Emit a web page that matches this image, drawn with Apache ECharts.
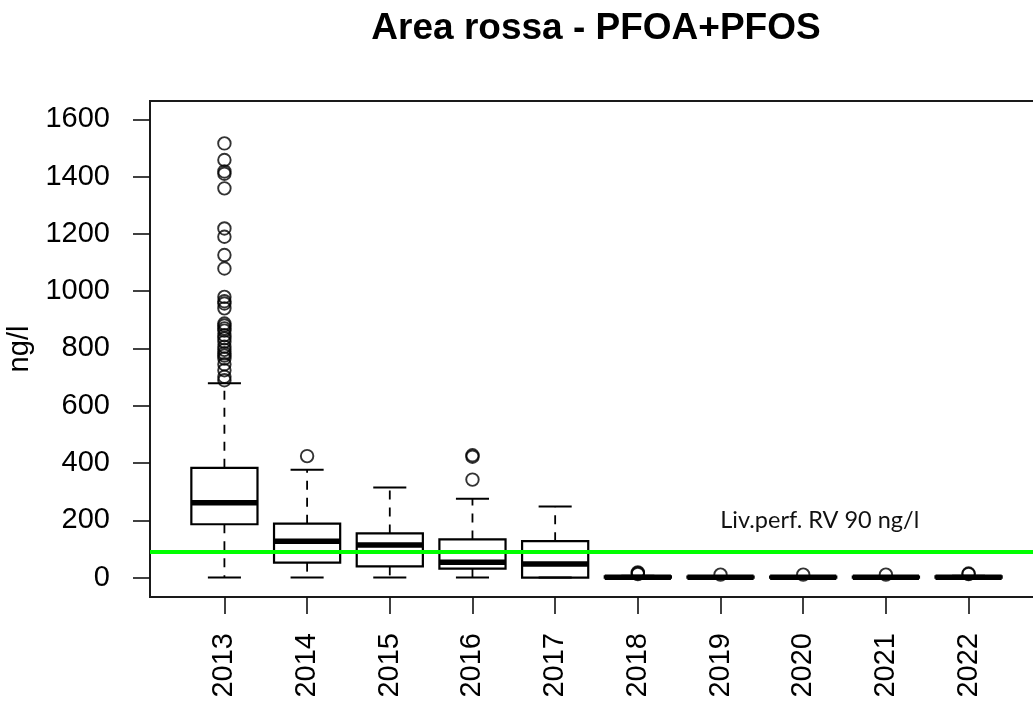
<!DOCTYPE html>
<html>
<head>
<meta charset="utf-8">
<script src="https://cdn.jsdelivr.net/npm/echarts@6/dist/echarts.min.js"></script>
<style>
html,body{margin:0;padding:0;background:#fff;}
#chart{width:1033px;height:702px;}
</style>
</head>
<body>
<div id="chart"></div>
<script>
// ---- data ----
var years = ['2013','2014','2015','2016','2017','2018','2019','2020','2021','2022'];
var lowerWhisker = [0, 0, 0, 0, 0, 0, 0, 0, 0, 0];
var q1 =          [186, 52, 39, 31, 0, 0, 0, 0, 0, 0];
var median =      [261, 127, 114, 53, 47, 1, 1, 1, 1, 1];
var q3 =          [383, 188, 154, 133, 127, 4, 3, 3, 3, 4];
var upperWhisker = [678, 376, 314, 275, 248, 6, 5, 5, 5, 6];
var outliers = [
  [1516, 1458, 1418, 1410, 1359, 1219, 1190, 1126, 1079, 980, 965, 957, 940, 887, 880, 870, 862, 846, 835, 823, 806, 795, 783, 775, 765, 745, 724, 701, 689],
  [424],
  [],
  [427, 422, 342],
  [],
  [18, 15, 12],
  [10],
  [10],
  [10],
  [14, 12]
];
var yTicks = [0, 200, 400, 600, 800, 1000, 1200, 1400, 1600];
var xTicks = [1, 2, 3, 4, 5, 6, 7, 8, 9, 10];
var refValue = 90;
var refLabel = 'Liv.perf. RV 90 ng/l';
var refLabelAt = [8.2, 200];

// ---- build ----
var boxData = years.map(function (y, i) {
  return [i + 1, lowerWhisker[i], q1[i], median[i], q3[i], upperWhisker[i]];
});
var outData = [];
outliers.forEach(function (arr, i) {
  arr.forEach(function (v) { outData.push([i + 1, v]); });
});

var FONT = "'Liberation Sans', Arial, sans-serif";
var chart = echarts.init(document.getElementById('chart'), null, {renderer: 'canvas'});

function renderBox(params, api) {
  var x = api.value(0);
  var lw = api.value(1), a = api.value(2), m = api.value(3), b = api.value(4), uw = api.value(5);
  var half = 0.4, capHalf = 0.2;
  var pL = api.coord([x - half, 0])[0];
  var pR = api.coord([x + half, 0])[0];
  var cL = api.coord([x - capHalf, 0])[0];
  var cR = api.coord([x + capHalf, 0])[0];
  var xc = api.coord([x, 0])[0];
  var yLw = api.coord([x, lw])[1];
  var yA = api.coord([x, a])[1];
  var yM = api.coord([x, m])[1];
  var yB = api.coord([x, b])[1];
  var yUw = api.coord([x, uw])[1];
  var blk = '#000';
  var children = [];
  children.push({type: 'line', shape: {x1: xc, y1: yB, x2: xc, y2: yUw},
    style: {stroke: blk, lineWidth: 1.8, lineDash: [9, 8]}});
  children.push({type: 'line', shape: {x1: xc, y1: yA, x2: xc, y2: yLw},
    style: {stroke: blk, lineWidth: 1.8, lineDash: [9, 8]}});
  children.push({type: 'line', shape: {x1: cL, y1: yUw, x2: cR, y2: yUw},
    style: {stroke: blk, lineWidth: 2}});
  children.push({type: 'line', shape: {x1: cL, y1: yLw, x2: cR, y2: yLw},
    style: {stroke: blk, lineWidth: 2}});
  children.push({type: 'rect', shape: {x: pL, y: yB, width: pR - pL, height: yA - yB},
    style: {fill: 'none', stroke: blk, lineWidth: 2.2}});
  children.push({type: 'line', shape: {x1: pL, y1: yM, x2: pR, y2: yM},
    style: {stroke: '#000', lineWidth: 5.5}});
  return {type: 'group', children: children};
}

var option = {
  animation: false,
  backgroundColor: '#fff',
  grid: {left: 150, top: 101, width: 893, height: 496, show: true,
    outerBoundsMode: 'none', containLabel: false,
    borderColor: '#1a1a1a', borderWidth: 2, backgroundColor: 'transparent'},
  xAxis: {
    type: 'value', min: 0.1, max: 10.9,
    axisLine: {show: false, onZero: false},
    splitLine: {show: false},
    axisTick: {show: true, customValues: xTicks, length: 17, lineStyle: {color: '#111', width: 1.6}},
    axisLabel: {show: true, customValues: xTicks, rotate: 90, margin: 36,
      formatter: function (v) { return years[Math.round(v) - 1]; },
      fontFamily: FONT, fontSize: 29, color: '#000'}
  },
  yAxis: {
    type: 'value', min: -68, max: 1664,
    name: 'ng/l', nameLocation: 'middle', nameGap: 112, nameRotate: 90,
    nameTextStyle: {fontFamily: FONT, fontSize: 29, color: '#000'},
    axisLine: {show: false, onZero: false},
    splitLine: {show: false},
    axisTick: {show: true, customValues: yTicks, length: 17, lineStyle: {color: '#111', width: 1.6}},
    axisLabel: {show: true, customValues: yTicks, margin: 40,
      formatter: function (v) { return String(v); },
      fontFamily: FONT, fontSize: 29, color: '#000'}
  },
  graphic: [{
    type: 'text', x: 596, y: 29, z: 10,
    style: {text: 'Area rossa - PFOA+PFOS', fill: '#000', textAlign: 'center', textVerticalAlign: 'middle',
      font: 'bold 37px ' + FONT}
  }],
  series: [
    {type: 'custom', name: 'box', renderItem: renderBox, data: boxData, z: 2,
      encode: {x: 0, y: [1, 2, 3, 4, 5]}},
    {type: 'scatter', name: 'outliers', data: outData, symbol: 'circle', symbolSize: 12.5, z: 3,
      itemStyle: {color: 'rgba(0,0,0,0)', borderColor: '#000', borderWidth: 1.9}},
    {type: 'custom', name: 'reflabel', z: 5, data: [refLabelAt],
      renderItem: function (params, api) {
        var p = api.coord([api.value(0), api.value(1)]);
        return {type: 'text', x: p[0], y: p[1],
          style: {text: refLabel, fill: '#111', textAlign: 'center', textVerticalAlign: 'middle',
            font: "23.5px Lato, 'Open Sans', sans-serif"}};
      },
      markLine: {silent: true, symbol: ['none', 'none'], label: {show: false}, z: 6,
        lineStyle: {color: '#00ff00', width: 4, type: 'solid'},
        data: [{yAxis: refValue}]}
    }
  ]
};
chart.setOption(option);
</script>
</body>
</html>
